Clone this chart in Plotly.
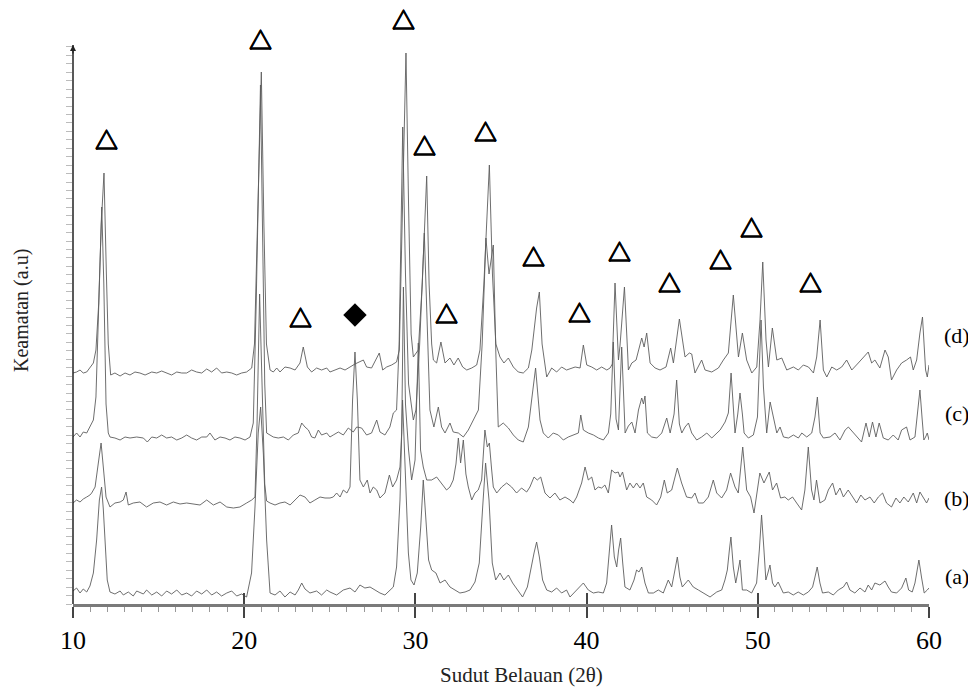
import plotly.graph_objects as go

# ---- data: (2theta, intensity a.u.) ----
A_PTS = [(10.0, 13), (10.21, 16), (10.41, 11), (10.6, 15), (10.8, 12), (10.99, 18), (11.19, 31), (11.38, 64),
         (11.54, 104), (11.67, 117), (11.77, 95), (11.87, 64), (12.0, 24), (12.16, 12), (12.45, 10), (12.75, 13),
         (12.94, 9), (13.23, 12), (13.52, 8), (13.72, 13), (14.11, 10), (14.3, 14), (14.6, 9), (14.89, 12),
         (15.18, 8), (15.47, 13), (15.76, 10), (16.06, 14), (16.35, 9), (16.64, 11), (16.93, 8), (17.22, 13),
         (17.52, 10), (17.81, 14), (18.1, 9), (18.39, 12), (18.68, 8), (18.98, 11), (19.27, 13), (19.56, 8),
         (19.85, 10), (20.14, 7), (20.43, 31), (20.63, 97), (20.82, 171), (20.96, 197), (21.12, 150), (21.31, 64),
         (21.51, 11), (21.8, 9), (22.09, 13), (22.38, 7), (22.68, 12), (22.97, 9), (23.16, 14), (23.36, 21),
         (23.55, 15), (23.84, 11), (24.23, 13), (24.52, 9), (24.82, 14), (25.01, 12), (25.4, 9), (25.79, 14),
         (26.18, 16), (26.47, 12), (26.76, 19), (27.05, 16), (27.35, 17), (27.64, 14), (27.93, 11), (28.22, 9),
         (28.51, 14), (28.71, 17), (28.9, 37), (29.1, 104), (29.25, 204), (29.41, 137), (29.59, 51), (29.74, 24),
         (29.92, 19), (30.11, 31), (30.31, 77), (30.46, 124), (30.62, 87), (30.77, 44), (30.95, 34), (31.2, 31),
         (31.44, 21), (31.73, 24), (32.02, 17), (32.31, 14), (32.6, 11), (32.9, 12), (33.19, 14), (33.48, 22),
         (33.73, 41), (33.93, 97), (34.1, 141), (34.3, 104), (34.49, 41), (34.69, 24), (34.94, 31), (35.17, 24),
         (35.43, 29), (35.68, 21), (35.95, 14), (36.26, 7), (36.54, 17), (36.75, 37), (36.93, 51), (37.08, 62),
         (37.24, 47), (37.43, 24), (37.67, 14), (37.96, 12), (38.25, 16), (38.54, 11), (38.83, 14), (39.03, 7),
         (39.42, 14), (39.81, 21), (40.1, 14), (40.39, 11), (40.68, 12), (40.98, 11), (41.17, 21), (41.33, 54),
         (41.46, 79), (41.62, 47), (41.76, 37), (41.87, 54), (41.99, 66), (42.11, 41), (42.24, 17), (42.53, 14),
         (42.77, 24), (42.92, 34), (43.06, 32), (43.22, 37), (43.41, 21), (43.61, 11), (43.9, 11), (44.19, 14),
         (44.48, 11), (44.77, 24), (44.97, 17), (45.16, 34), (45.3, 47), (45.45, 27), (45.59, 17), (45.94, 24),
         (46.23, 17), (46.53, 14), (46.82, 11), (47.21, 7), (47.6, 12), (47.89, 14), (48.08, 24), (48.22, 34),
         (48.34, 54), (48.43, 67), (48.57, 37), (48.71, 21), (48.86, 34), (48.96, 44), (49.1, 14), (49.35, 14),
         (49.64, 11), (49.73, 14), (49.93, 21), (50.09, 54), (50.22, 89), (50.36, 54), (50.47, 24), (50.59, 31),
         (50.71, 39), (50.86, 21), (51.0, 17), (51.19, 22), (51.49, 11), (51.78, 12), (52.07, 9), (52.36, 12),
         (52.66, 9), (52.95, 12), (53.2, 17), (53.34, 27), (53.47, 37), (53.63, 21), (53.78, 11), (54.12, 12),
         (54.41, 9), (54.7, 14), (55.0, 17), (55.19, 22), (55.38, 14), (55.67, 11), (55.97, 16), (56.26, 12),
         (56.45, 19), (56.65, 14), (56.84, 21), (57.13, 19), (57.43, 23), (57.62, 17), (57.81, 12), (58.11, 11),
         (58.4, 16), (58.65, 26), (58.81, 14), (59.02, 12), (59.18, 21), (59.31, 34), (59.41, 44), (59.57, 26),
         (59.72, 11), (59.9, 14), (60.0, 16)]

B_PTS = [(10.0, 101), (10.21, 104), (10.41, 102), (10.6, 105), (10.8, 107), (10.99, 109), (11.09, 111),
         (11.29, 117), (11.48, 141), (11.64, 161), (11.77, 137), (11.93, 107), (12.16, 97), (12.45, 101),
         (12.75, 102), (12.94, 104), (13.1, 112), (13.23, 99), (13.52, 101), (13.91, 102), (14.3, 97), (14.69, 101),
         (15.08, 102), (15.47, 99), (15.86, 102), (16.25, 100), (16.64, 101), (17.03, 100), (17.42, 99),
         (17.81, 104), (18.2, 99), (18.59, 102), (18.98, 97), (19.37, 96), (19.75, 97), (20.14, 101), (20.44, 104),
         (20.63, 107), (20.75, 180), (20.9, 310), (21.05, 200), (21.2, 120), (21.31, 103), (21.51, 101),
         (21.8, 99), (22.09, 101), (22.38, 102), (22.68, 99), (22.97, 104), (23.26, 109), (23.55, 107),
         (23.84, 101), (24.13, 104), (24.43, 107), (24.72, 106), (25.01, 106), (25.2, 107), (25.4, 111),
         (25.6, 107), (25.79, 114), (26.0, 111), (26.18, 117), (26.33, 204), (26.47, 252), (26.61, 204),
         (26.76, 124), (26.96, 117), (27.19, 124), (27.35, 111), (27.54, 117), (27.74, 114), (27.93, 106),
         (28.22, 111), (28.48, 129), (28.67, 117), (28.9, 124), (29.1, 137), (29.2, 171), (29.3, 317),
         (29.42, 200), (29.6, 154), (29.78, 124), (29.98, 144), (30.17, 261), (30.3, 154), (30.46, 137),
         (30.66, 124), (30.95, 124), (31.24, 127), (31.53, 121), (31.82, 114), (32.02, 117), (32.21, 124),
         (32.37, 140), (32.51, 166), (32.64, 141), (32.8, 164), (32.95, 130), (33.09, 117), (33.29, 104),
         (33.48, 111), (33.67, 114), (33.87, 124), (33.97, 150), (34.06, 174), (34.2, 157), (34.32, 161),
         (34.45, 135), (34.55, 117), (34.75, 111), (35.04, 117), (35.33, 121), (35.62, 117), (35.91, 111),
         (36.2, 116), (36.5, 112), (36.69, 117), (36.93, 127), (37.12, 124), (37.32, 127), (37.57, 111),
         (37.86, 106), (38.15, 111), (38.44, 104), (38.74, 107), (39.03, 104), (39.22, 101), (39.42, 107),
         (39.71, 121), (39.91, 137), (40.1, 124), (40.3, 127), (40.49, 114), (40.68, 117), (40.88, 116),
         (41.07, 119), (41.27, 111), (41.46, 134), (41.66, 131), (41.85, 132), (41.95, 127), (42.1, 132),
         (42.34, 114), (42.53, 121), (42.73, 116), (42.92, 121), (43.12, 116), (43.31, 121), (43.51, 107),
         (43.8, 104), (44.09, 99), (44.33, 107), (44.54, 124), (44.71, 111), (44.97, 114), (45.3, 136),
         (45.55, 121), (45.84, 107), (46.14, 106), (46.33, 111), (46.53, 101), (46.82, 101), (47.11, 107),
         (47.4, 124), (47.6, 111), (47.89, 106), (48.18, 114), (48.41, 131), (48.67, 117), (48.86, 111),
         (49.12, 157), (49.35, 114), (49.58, 107), (49.78, 91), (49.9, 107), (50.12, 131), (50.36, 121),
         (50.67, 132), (50.86, 114), (51.1, 121), (51.33, 106), (51.58, 107), (51.78, 104), (52.03, 107),
         (52.27, 101), (52.56, 94), (52.75, 114), (52.95, 157), (53.14, 114), (53.28, 104), (53.43, 124),
         (53.63, 101), (53.92, 104), (54.12, 114), (54.37, 121), (54.56, 109), (54.8, 116), (55.0, 107),
         (55.28, 114), (55.58, 106), (55.77, 101), (56.02, 109), (56.26, 104), (56.55, 107), (56.8, 101),
         (57.04, 107), (57.29, 111), (57.52, 101), (57.81, 97), (58.07, 106), (58.3, 101), (58.53, 107),
         (58.79, 102), (59.08, 111), (59.28, 101), (59.47, 112), (59.66, 107), (59.86, 101), (60.0, 106)]

C_PTS = [(10.0, 167), (10.21, 171), (10.41, 167), (10.6, 172), (10.8, 171), (10.99, 177), (11.19, 184),
         (11.34, 207), (11.5, 300), (11.68, 397), (11.8, 320), (11.93, 200), (12.06, 171), (12.16, 167),
         (12.45, 166), (12.75, 164), (13.04, 167), (13.33, 166), (13.72, 167), (14.11, 166), (14.34, 162),
         (14.6, 167), (14.89, 166), (15.18, 169), (15.47, 166), (15.76, 167), (16.06, 164), (16.35, 166),
         (16.64, 169), (16.93, 166), (17.22, 164), (17.52, 167), (17.81, 167), (18.0, 171), (18.29, 164),
         (18.59, 167), (18.88, 166), (19.17, 164), (19.46, 167), (19.75, 166), (20.05, 164), (20.34, 167),
         (20.53, 181), (20.7, 300), (20.95, 519), (21.1, 350), (21.2, 220), (21.31, 171), (21.51, 169),
         (21.7, 167), (21.99, 166), (22.29, 167), (22.58, 164), (22.87, 169), (23.16, 171), (23.36, 181),
         (23.55, 177), (23.75, 174), (23.94, 167), (24.13, 166), (24.33, 174), (24.52, 169), (24.82, 171),
         (25.01, 167), (25.2, 169), (25.5, 172), (25.79, 169), (26.08, 176), (26.37, 172), (26.57, 177),
         (26.86, 176), (27.15, 169), (27.44, 171), (27.74, 184), (27.93, 172), (28.22, 169), (28.51, 177),
         (28.71, 191), (28.9, 194), (29.05, 260), (29.26, 477), (29.42, 330), (29.6, 220), (29.88, 184),
         (30.03, 194), (30.25, 260), (30.52, 371), (30.7, 260), (30.85, 194), (31.08, 177), (31.34, 197),
         (31.53, 177), (31.73, 171), (32.02, 181), (32.21, 172), (32.51, 171), (32.8, 167), (33.09, 174),
         (33.38, 184), (33.68, 194), (33.9, 260), (34.12, 366), (34.3, 330), (34.55, 359), (34.7, 250),
         (34.84, 177), (35.13, 181), (35.43, 176), (35.72, 169), (36.01, 164), (36.3, 162), (36.6, 177),
         (36.79, 204), (37.02, 236), (37.28, 184), (37.47, 171), (37.76, 166), (38.05, 171), (38.35, 169),
         (38.64, 164), (38.93, 167), (39.23, 169), (39.52, 171), (39.66, 189), (39.81, 174), (40.1, 171),
         (40.4, 169), (40.69, 166), (40.98, 164), (41.27, 171), (41.41, 190), (41.56, 262), (41.72, 185),
         (41.86, 174), (42.05, 257), (42.25, 171), (42.44, 178), (42.64, 182), (42.83, 171), (43.03, 194),
         (43.22, 206), (43.32, 200), (43.41, 208), (43.55, 171), (43.8, 167), (44.1, 166), (44.39, 171),
         (44.68, 186), (44.88, 171), (45.11, 190), (45.26, 224), (45.42, 180), (45.56, 171), (45.75, 177),
         (45.95, 181), (46.14, 171), (46.43, 164), (46.72, 167), (47.02, 171), (47.31, 166), (47.6, 171),
         (47.8, 174), (48.09, 182), (48.28, 191), (48.44, 231), (48.57, 200), (48.67, 171), (48.83, 190),
         (48.96, 211), (49.1, 190), (49.2, 171), (49.45, 166), (49.74, 169), (49.98, 187), (50.09, 240),
         (50.19, 284), (50.33, 217), (50.52, 171), (50.72, 202), (50.91, 187), (51.11, 171), (51.3, 177),
         (51.5, 167), (51.79, 166), (52.08, 169), (52.37, 166), (52.57, 171), (52.86, 167), (53.15, 171),
         (53.34, 187), (53.48, 207), (53.64, 171), (53.83, 166), (54.22, 167), (54.51, 171), (54.8, 164),
         (55.1, 174), (55.29, 177), (55.58, 171), (55.77, 167), (56.06, 162), (56.32, 181), (56.51, 167),
         (56.7, 182), (56.9, 167), (57.09, 181), (57.33, 166), (57.62, 164), (57.91, 169), (58.2, 164),
         (58.4, 174), (58.69, 177), (58.89, 164), (59.18, 167), (59.33, 190), (59.47, 214), (59.6, 185),
         (59.7, 164), (59.8, 167), (59.9, 171), (60.0, 164)]

D_PTS = [(10.0, 231), (10.21, 232), (10.41, 234), (10.6, 231), (10.8, 232), (10.99, 236), (11.19, 241),
         (11.34, 254), (11.5, 300), (11.65, 380), (11.81, 431), (11.95, 330), (12.06, 260), (12.2, 229),
         (12.45, 231), (12.75, 228), (13.04, 231), (13.33, 229), (13.62, 232), (13.91, 231), (14.21, 229),
         (14.6, 232), (14.89, 231), (15.18, 233), (15.47, 231), (15.76, 229), (16.06, 232), (16.35, 231),
         (16.64, 231), (16.93, 234), (17.22, 232), (17.52, 231), (17.81, 235), (18.1, 232), (18.39, 236),
         (18.68, 231), (18.98, 232), (19.27, 231), (19.56, 229), (19.85, 231), (20.14, 232), (20.44, 236),
         (20.6, 260), (20.8, 400), (21.0, 532), (21.15, 380), (21.3, 260), (21.51, 234), (21.7, 232),
         (21.9, 236), (22.09, 232), (22.38, 237), (22.68, 236), (22.97, 234), (23.26, 241), (23.45, 257),
         (23.69, 237), (23.94, 232), (24.23, 236), (24.52, 234), (24.82, 236), (25.01, 232), (25.3, 234),
         (25.6, 236), (25.89, 234), (26.18, 237), (26.47, 240), (26.96, 244), (27.15, 237), (27.44, 236),
         (27.74, 246), (27.89, 251), (28.09, 234), (28.32, 237), (28.61, 239), (28.9, 242), (29.06, 254),
         (29.25, 400), (29.45, 551), (29.6, 400), (29.75, 270), (29.88, 247), (30.03, 251), (30.17, 254),
         (30.4, 320), (30.66, 428), (30.8, 320), (30.95, 260), (31.05, 244), (31.24, 241), (31.49, 262),
         (31.73, 241), (32.02, 246), (32.25, 239), (32.5, 246), (32.76, 237), (33.0, 234), (33.29, 236),
         (33.58, 239), (33.77, 254), (34.0, 320), (34.32, 439), (34.5, 330), (34.7, 260), (34.94, 247),
         (35.17, 241), (35.43, 246), (35.72, 237), (36.01, 232), (36.3, 231), (36.6, 236), (36.8, 254),
         (37.08, 296), (37.24, 312), (37.4, 260), (37.67, 227), (37.96, 236), (38.25, 232), (38.54, 237),
         (38.83, 234), (39.33, 237), (39.62, 236), (39.81, 259), (40.01, 239), (40.3, 237), (40.59, 234),
         (40.88, 237), (41.18, 234), (41.37, 236), (41.5, 240), (41.66, 321), (41.8, 260), (41.86, 244),
         (41.95, 258), (42.21, 317), (42.4, 250), (42.44, 234), (42.64, 241), (42.89, 244), (43.22, 266),
         (43.36, 257), (43.51, 271), (43.71, 241), (44.0, 236), (44.29, 234), (44.64, 237), (44.91, 256),
         (45.07, 241), (45.42, 285), (45.75, 247), (46.0, 251), (46.14, 250), (46.33, 231), (46.72, 244),
         (46.92, 234), (47.31, 232), (47.7, 236), (47.99, 244), (48.28, 251), (48.57, 309), (48.87, 247),
         (49.1, 271), (49.35, 244), (49.65, 231), (49.94, 237), (50.13, 284), (50.29, 342), (50.48, 264),
         (50.62, 237), (50.85, 276), (51.11, 244), (51.4, 246), (51.69, 234), (52.08, 237), (52.37, 234),
         (52.66, 239), (52.96, 237), (53.25, 231), (53.44, 247), (53.64, 284), (53.83, 234), (54.03, 227),
         (54.32, 237), (54.61, 234), (54.9, 237), (55.19, 244), (55.49, 234), (55.87, 241), (56.16, 247),
         (56.45, 252), (56.65, 241), (56.84, 244), (57.13, 236), (57.43, 254), (57.62, 247), (57.81, 224),
         (58.11, 234), (58.4, 241), (58.69, 244), (58.92, 247), (59.08, 234), (59.28, 244), (59.47, 271),
         (59.62, 287), (59.8, 234), (59.9, 227), (60.0, 239)]

TRI_X = [11.93, 20.98, 23.26, 29.33, 30.56, 31.79, 34.12, 36.87, 39.56, 41.95, 44.87, 47.85, 49.66, 53.05]
TRI_Y = [464, 564, 286, 584, 458, 290, 472, 347, 291, 352, 321, 344, 376, 321]
DIA_X = [26.47]
DIA_Y = [289]

SERIES_LABELS = ["(a)", "(b)", "(c)", "(d)"]
LABEL_Y = [28, 106, 191, 269]
X_TICKS = [10, 20, 30, 40, 50, 60]
X_TITLE = "Sudut Belauan (2θ)"
Y_TITLE = "Keamatan (a.u)"

SERIF = "Liberation Serif, Times New Roman, serif"
LINE_COLOR = "#5e5e5e"
Y_TOP = 596          # top of the plotting area (a.u.)
Y_AXIS_END = 559     # where the drawn y axis line stops
Y_TICK_STEP = 8.44
Y_TICKS = [round(i * Y_TICK_STEP, 2) for i in range(int(Y_AXIS_END // Y_TICK_STEP) + 1)]
BOLD_SHADOW = "0.6px 0 0 #000, -0.6px 0 0 #000, 0 0.6px 0 #000, 0 -0.6px 0 #000"

fig = go.Figure()
for pts in (A_PTS, B_PTS, C_PTS, D_PTS):
    xs, ys = zip(*pts)
    fig.add_trace(go.Scatter(x=list(xs), y=list(ys), mode="lines",
                             line=dict(color=LINE_COLOR, width=0.9), hoverinfo="skip",
                             showlegend=False))

fig.add_trace(go.Scatter(x=DIA_X, y=DIA_Y, mode="markers",
                         marker=dict(symbol="diamond", size=18, color="black"),
                         hoverinfo="skip", showlegend=False))
# overlay axis for the upward half of the major ticks
fig.add_trace(go.Scatter(x=[], y=[], xaxis="x2", yaxis="y", showlegend=False))

# the page body has an 8px margin: the figure is sized so the plot lands where the reference has it
fig.update_layout(
    width=968, height=680,
    margin=dict(l=65, r=47, t=0, b=84),
    paper_bgcolor="white", plot_bgcolor="white",
    xaxis=dict(range=[10, 60], tickvals=X_TICKS, ticks="outside", ticklen=11, tickwidth=1.5,
               tickcolor="#444", showline=True, linecolor="#7a7a7a", linewidth=2.5,
               showgrid=False, zeroline=False,
               tickfont=dict(family=SERIF, size=26, color="black"),
               minor=dict(dtick=1, ticks="outside", ticklen=5, tickcolor="#999", tickwidth=1)),
    xaxis2=dict(range=[10, 60], overlaying="x", anchor="y", side="bottom",
                tickvals=X_TICKS[1:-1], ticks="inside", ticklen=11, tickwidth=1.5, tickcolor="#444",
                showticklabels=False, showline=False, showgrid=False, zeroline=False),
    yaxis=dict(range=[0, Y_TOP], showline=False,
               ticks="outside", ticklen=6, tickwidth=1, tickcolor="#bbb", tickvals=Y_TICKS,
               showticklabels=False, showgrid=False, zeroline=False),
)

# peak markers: open triangles
for tx, ty in zip(TRI_X, TRI_Y):
    fig.add_annotation(x=tx, y=ty, xref="x", yref="y", text="△", showarrow=False, yshift=1,
                       font=dict(family="Noto Sans CJK JP", size=23, color="black", shadow=BOLD_SHADOW),
                       xanchor="center", yanchor="middle")

# y axis line (stops below the top markers) with a small arrow head
fig.add_shape(type="line", xref="paper", x0=0, x1=0, yref="y", y0=0, y1=Y_AXIS_END,
              line=dict(color="#222", width=1.5))
fig.add_annotation(x=10, y=Y_AXIS_END, xref="x", yref="y", ax=0, ay=10, text="", showarrow=True,
                   arrowhead=2, arrowsize=1, arrowwidth=1.2, arrowcolor="#222", standoff=0)

for lab, ly in zip(SERIES_LABELS, LABEL_Y):
    fig.add_annotation(x=1.033, xref="paper", y=ly, yref="y", text=lab, showarrow=False,
                       font=dict(family=SERIF, size=22, color="black"), xanchor="center")

fig.add_annotation(x=0.5245, xref="paper", y=-0.119, yref="paper", text=X_TITLE, showarrow=False,
                   font=dict(family=SERIF, size=21, color="#222"), xanchor="center", yanchor="middle")
fig.add_annotation(x=-0.061, xref="paper", y=0.493, yref="paper", text=Y_TITLE, showarrow=False,
                   textangle=-90, font=dict(family=SERIF, size=20, color="#222"),
                   xanchor="center", yanchor="middle")

fig.write_html("out.html")
